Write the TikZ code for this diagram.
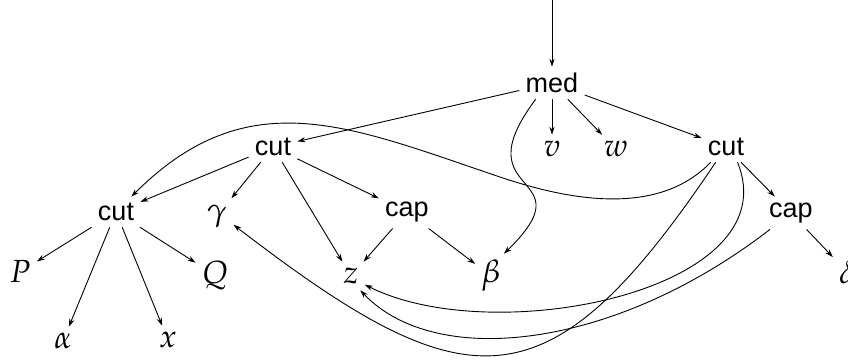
\documentclass[tikz,border=0pt]{standalone}
\usepackage{mathpazo}
\usepackage{fontspec}
\setsansfont{Liberation Sans}
\usetikzlibrary{arrows.meta}
\tikzset{
  lab/.style={font=\sffamily\fontsize{13.5}{16}\selectfont, inner sep=3pt},
  mth/.style={font=\fontsize{16}{19}\selectfont, inner sep=3pt},
  arr/.style={-{Stealth[length=4pt,width=2.6pt]}, line width=0.45pt}
}
\begin{document}
\begin{tikzpicture}[x=0.5pt,y=-0.5pt]
\useasboundingbox (0,0) rectangle (848,360);
\coordinate (top) at (552,0);
\node[lab] (med) at (552,83) {med};
\node[mth] (v) at (552,149) {$v$};
\node[mth] (w) at (616,149) {$w$};
\node[lab] (cutM) at (273,147) {cut};
\node[lab] (cutR) at (726,147) {cut};
\node[lab] (cutL) at (116,212) {cut};
\node[mth] (gam) at (217,216) {$\gamma$};
\node[lab] (capM) at (407,212) {cap};
\node[lab] (capR) at (791,213) {cap};
\node[mth] (P) at (20,272) {$P$};
\node[mth] (Q) at (215,275) {$Q$};
\node[mth] (z) at (351,276) {$z$};
\node[mth] (beta) at (491,276) {$\beta$};
\node[mth] (delta) at (847,272) {$\delta$};
\node[mth] (alpha) at (63,341) {$\alpha$};
\node[mth] (xx) at (168,340) {$x$};
\coordinate (s1) at (503,178);
% straight edges
\draw[arr] (top) -- (med);
\draw[arr] (med) -- (cutM);
\draw[arr] (med) -- (v);
\draw[arr] (med) -- (w);
\draw[arr] (med) -- (cutR);
\draw[arr] (cutM) -- (cutL);
\draw[arr] (cutM) -- (gam);
\draw[arr] (cutM) -- (z);
\draw[arr] (cutM) -- (capM);
\draw[arr] (capM) -- (z);
\draw[arr] (capM) -- (beta);
\draw[arr] (cutL) -- (P);
\draw[arr] (cutL) -- (alpha);
\draw[arr] (cutL) -- (xx);
\draw[arr] (cutL) -- (Q);
\draw[arr] (cutR) -- (capR);
\draw[arr] (capR) -- (delta);
% curved edges
\draw[arr] (med.225) .. controls (460,200) and (590,170) .. (beta.60);
\draw[arr] (cutR.225) .. controls (660,215) and (575,202) .. (s1) .. controls (351,127) and (249,79) .. (cutL.45);
\draw[arr] (cutR.236) .. controls (548,412) and (468,405) .. (gam.332);
\draw[arr] (cutR.307) .. controls (790,290) and (495,350) .. (z.328);
\draw[arr] (capR.218) .. controls (615,349) and (436,370) .. (z.303);
\end{tikzpicture}
\end{document}
